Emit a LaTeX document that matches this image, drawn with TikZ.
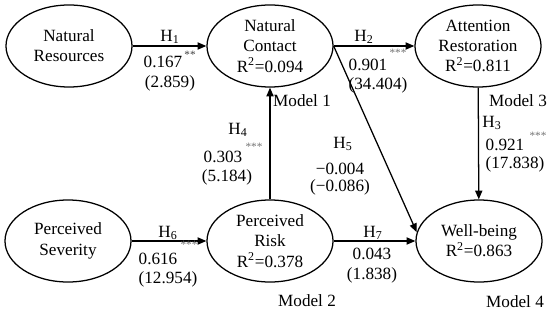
\documentclass[tikz,border=0pt]{standalone}
\usepackage{fontspec}
\setmainfont{Liberation Serif}
\usetikzlibrary{arrows.meta, shapes.geometric, positioning}

\begin{document}
\begin{tikzpicture}[x=0.025cm, y=-0.025cm,
        construct/.style={draw, line width=0.9pt, ellipse, minimum width=3.15cm,
                          minimum height=2.05cm, inner sep=0pt, align=center,
                          font=\fontsize{12.2}{14.4}\selectfont},
        pathArr/.style={-{Triangle[length=2.2mm, width=1.8mm]}, line width=0.9pt},
        lbl/.style={font=\fontsize{12.2}{14}\selectfont, inner sep=0pt},
        stars/.style={font=\fontsize{8}{9}\selectfont, text=black!55, inner sep=0pt}
      ]
        \useasboundingbox (0,0) rectangle (550,314);
        % constructs
        \node[construct] (NR) at (69,46)  {Natural\\Resources};
        \node[construct] (NC) at (270,46) {Natural\\Contact\\R\textsuperscript{2}=0.094};
        \node[construct] (AR) at (478,46) {Attention\\Restoration\\R\textsuperscript{2}=0.811};
        \node[construct] (PS) at (68,241) {Perceived\\Severity};
        \node[construct] (PR) at (270,241) {Perceived\\Risk\\R\textsuperscript{2}=0.378};
        \node[construct] (WB) at (479,241) {Well-being\\R\textsuperscript{2}=0.863};
        % paths
        \draw[pathArr] (NR) -- (NC);
        \draw[pathArr] (NC) -- (AR);
        \draw[pathArr] (PS) -- (PR);
        \draw[pathArr] (PR) -- (WB);
        \draw[pathArr] (PR) -- (NC);
        \draw[pathArr] (AR) -- (WB);
        \draw[pathArr] (NC.east) -- (WB.172);
        % H1
        \node[lbl] (h1) at (170,37) {H\textsubscript{1}};
        \node[lbl] (b1) at (163,62) {0.167};
        \node[stars, text=black!75] at (190,55) {**};
        \node[lbl] (t1) at (170,83) {(2.859)};
        % H2
        \node[lbl] (h2) at (364,37) {H\textsubscript{2}};
        \node[stars] at (398,53) {***};
        \node[lbl] (b2) at (368,65) {0.901};
        \node[lbl] (t2) at (378,85) {(34.404)};
        \node[lbl] (m1) at (302,101) {Model 1};
        % H3
        \node[lbl] (m3) at (518,101) {Model 3};
        \node[lbl] (h3) at (492,123) {H\textsubscript{3}};
        \node[lbl] (b3) at (505,145) {0.921};
        \node[stars] at (538,136) {***};
        \node[lbl] (t3) at (515,164) {(17.838)};
        % H4
        \node[lbl] (h4) at (238,130) {H\textsubscript{4}};
        \node[stars] at (254,147) {***};
        \node[lbl] (b4) at (223,157) {0.303};
        \node[lbl] (t4) at (227,177) {(5.184)};
        % H5
        \node[lbl] (h5) at (343,144) {H\textsubscript{5}};
        \node[lbl] (b5) at (340,169) {−0.004};
        \node[lbl] (t5) at (340,187) {(−0.086)};
        % H6
        \node[lbl] (h6) at (168,233) {H\textsubscript{6}};
        \node[stars] at (189,245) {***};
        \node[lbl] (b6) at (158,259) {0.616};
        \node[lbl] (t6) at (168,279) {(12.954)};
        % H7
        \node[lbl] (h7) at (373,233) {H\textsubscript{7}};
        \node[lbl] (b7) at (372,254) {0.043};
        \node[lbl] (t7) at (372,275) {(1.838)};
        \node[lbl] (m2) at (307,301) {Model 2};
        \node[lbl] (m4) at (515,302) {Model 4};
      \end{tikzpicture}
\end{document}
